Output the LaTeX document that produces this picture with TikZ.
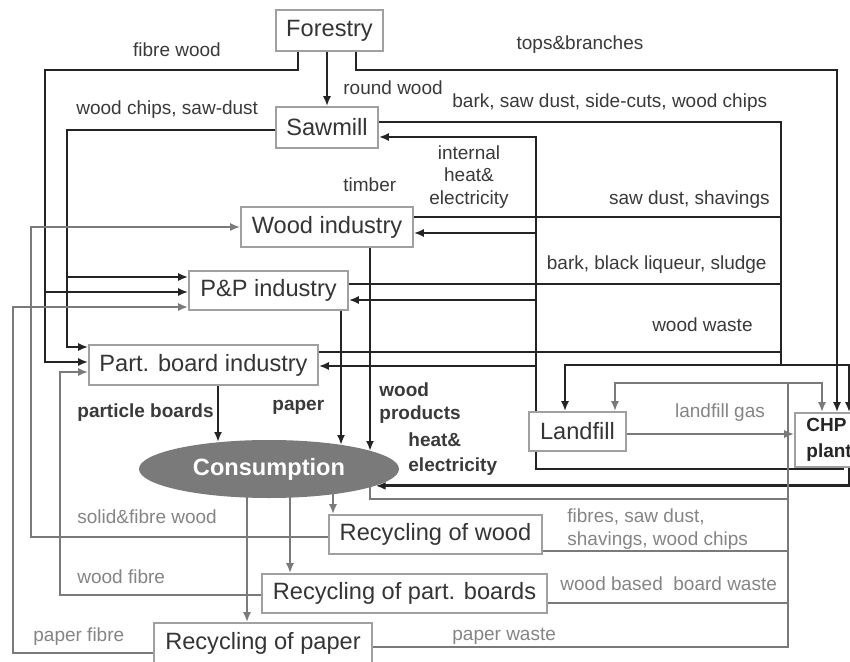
\documentclass[tikz,border=0pt]{standalone}
\usepackage{fontspec}
\setmainfont{Liberation Sans}
\usetikzlibrary{arrows.meta,shapes.geometric}
\definecolor{lineblk}{HTML}{242424}
\definecolor{linegry}{HTML}{7A7A7A}
\definecolor{boxline}{HTML}{A0A0A0}
\definecolor{boxtext}{HTML}{353535}
\definecolor{labtext}{HTML}{3A3A3A}
\definecolor{labgry}{HTML}{858585}
\definecolor{consfill}{HTML}{7A7A7A}
\pgfdeclarelayer{paper}
\pgfdeclarelayer{wires}
\pgfsetlayers{paper,wires,main}
\begin{document}
\begin{tikzpicture}[x=0.5pt,y=-0.5pt,
  box/.style={draw=boxline, fill=white, line width=0.8pt, inner sep=0pt,
    text=boxtext, font=\fontsize{11.8}{14}\selectfont},
  lab/.style={inner sep=0pt, text=labtext, font=\fontsize{9.5}{11.25}\selectfont},
  labb/.style={inner sep=0pt, text=labtext, font=\fontsize{9.5}{11.5}\selectfont\bfseries},
  labg/.style={lab, text=labgry},
  blk/.style={draw=lineblk, line width=1.45pt},
  gry/.style={draw=linegry, line width=1.4pt},
  tip/.style={-{Latex[length=5pt,width=4pt]}},
]
\useasboundingbox (0,0) rectangle (850,662);
\begin{pgfonlayer}{paper}
  \fill[white] (0,0) rectangle (850,662);
\end{pgfonlayer}

% ---- units ----
\node[box, minimum width=53.5pt, minimum height=20.5pt] (forestry) at (329.5,30.5) {Forestry};
\node[box, minimum width=51pt, minimum height=20.5pt] (sawmill) at (327,127.5) {Sawmill};
\node[box, minimum width=86pt, minimum height=20pt] (woodind) at (327,227) {Wood industry};
\node[box, minimum width=79.5pt, minimum height=19.5pt] (pp) at (268.5,290.5) {P\&P industry};
\node[box, minimum width=114.5pt, minimum height=20pt] (pbi) at (203.5,365) {Part. board industry};
\node[ellipse, fill=consfill, minimum width=130pt, minimum height=29pt, inner sep=0pt,
  text=white, font=\fontsize{11.8}{14}\selectfont\bfseries] (cons) at (269,469) {Consumption};
\node[box, minimum width=48.5pt, minimum height=19.5pt] (landfill) at (577.5,431.5) {Landfill};
\node[box, minimum width=33.5pt, minimum height=27pt] (chp) at (828.5,440) {};
\node[inner sep=0pt, anchor=west, align=left, text=black!85,
  font=\fontsize{9.5}{13}\selectfont\bfseries] (chptext) at (806,440) {CHP\\plant};
\node[box, minimum width=106.5pt, minimum height=19.5pt] (recwood) at (435.5,534.5) {Recycling of wood};
\node[box, minimum width=142.5pt, minimum height=19.5pt] (recpb) at (404.5,593.5) {Recycling of part. boards};
\node[box, minimum width=109pt, minimum height=20pt] (recpaper) at (263,643) {Recycling of paper};

% ---- flows ----
\begin{pgfonlayer}{wires}
  % wood from the forest
  \draw[blk,tip] (forestry.south -| sawmill.north) -- (sawmill.north);
  \draw[blk,tip] (forestry.south -| 298,0) |- (45,70) |- (pbi.west |- 0,362);
  \draw[blk,tip] (45,292) -- (pp.west |- 0,292);
  \draw[blk,tip] (sawmill.west |- 0,130) -| (67,347) -- (pbi.west |- 0,347);
  \draw[blk,tip] (67,277) -- (pp.west |- 0,277);
  \draw[blk,tip] (forestry.south -| 356,0) |- (837,70) -- (chp.north -| 837,0);
  % by-products collected on the right
  \draw[blk] (sawmill.east |- 0,122) -| (781,365);
  \draw[blk] (woodind.east |- 0,217) -- (781,217);
  \draw[blk] (pp.east |- 0,284) -- (781,284);
  \draw[blk] (pbi.east |- 0,352) -- (781,352);
  \draw[blk,tip] (852,365) -| (landfill.north -| 565,0);
  \draw[blk,tip] (849,365) -- (chp.north -| 849,0);
  % internal heat and electricity
  \draw[blk,tip] (chp.south -| 843,0) -- (843,469) -- (536,469) -- (536,137) -- (sawmill.east |- 0,137);
  \draw[blk,tip] (536,233) -- (woodind.east |- 0,233);
  \draw[blk,tip] (536,300) -- (pp.east |- 0,300);
  \draw[blk,tip] (536,366) -- (pbi.east |- 0,366);
  % products to consumption
  \draw[blk,tip] (pbi.south -| 218,0) -- (218,442);
  \draw[blk,tip] (pp.south -| 341,0) -- (341,445);
  \draw[blk,tip] (woodind.south -| 370,0) -- (370,451);
  \draw[blk,tip] (chp.south -| 849,0) |- (cons.-9);
  % recycling
  \draw[gry,tip] (cons.center -| 333,0) -- (recwood.north -| 333,0);
  \draw[gry,tip] (cons.center -| 290,0) -- (recpb.north -| 290,0);
  \draw[gry,tip] (cons.center -| 247,0) -- (recpaper.north -| 247,0);
  \draw[gry,tip] (recwood.west |- 0,537) -| (31,227) -- (woodind.west |- 0,227);
  \draw[gry,tip] (recpb.west |- 0,595) -| (60,372) -- (pbi.west |- 0,372);
  \draw[gry,tip] (recpaper.west |- 0,653) -| (13,307) -- (pp.west |- 0,307);
  % wastes
  \draw[gry] (recpaper.east |- 0,647) -| (788,383);
  \draw[gry] (recpb.east |- 0,603) -- (788,603);
  \draw[gry] (recwood.east |- 0,551) -- (788,551);
  \draw[gry] (cons.center -| 370,0) |- (788,499);
  \draw[gry,tip] (788,383) -| (landfill.north -| 615,0);
  \draw[gry,tip] (788,383) -| (chp.north -| 822,0);
  \draw[gry,tip] (landfill.east |- 0,434) -- (chp.west |- 0,434);
\end{pgfonlayer}

% ---- labels ----
\node[lab] (lfibre) at (177,50) {fibre wood};
\node[lab] (ltops) at (580,45) {tops\&branches};
\node[lab, anchor=west] (lround) at (343,88) {round wood};
\node[lab, anchor=west] (lchips) at (76,110) {wood chips, saw-dust};
\node[lab, anchor=west] (lbark) at (452,103) {bark, saw dust, side-cuts, wood chips};
\node[lab, align=center] (linternal) at (469,177) {internal\\heat\&\\electricity};
\node[lab, anchor=west] (ltimber) at (343,185) {timber};
\node[lab, anchor=east] (lsaw) at (770,200) {saw dust, shavings};
\node[lab, anchor=east] (lliq) at (767,265) {bark, black liqueur, sludge};
\node[lab, anchor=east] (lwaste) at (753,325) {wood waste};
\node[labb, anchor=west] (lpart) at (77,413) {particle boards};
\node[labb, anchor=west] (lpaper) at (272,407) {paper};
\node[labb, anchor=west, align=left] (lprod) at (379,403.5) {wood\\products};
\node[labb, anchor=west, align=left, font=\fontsize{9.5}{12.5}\selectfont\bfseries] (lheat) at (408,454.5) {heat\&\\electricity};
\node[labg] (lgas) at (720,413) {landfill gas};
\node[labg, anchor=west] (lsolid) at (77,517) {solid\&fibre wood};
\node[labg, anchor=west] (lwfibre) at (77,577) {wood fibre};
\node[labg, anchor=west] (lpfibre) at (33,637) {paper fibre};
\node[labg, anchor=west, align=left] (lfibres) at (567,529) {fibres, saw dust,\\shavings, wood chips};
\node[labg, anchor=west] (lboard) at (560,584) {wood based~~board waste};
\node[labg, anchor=west] (lpwaste) at (452,636) {paper waste};
\end{tikzpicture}
\end{document}
